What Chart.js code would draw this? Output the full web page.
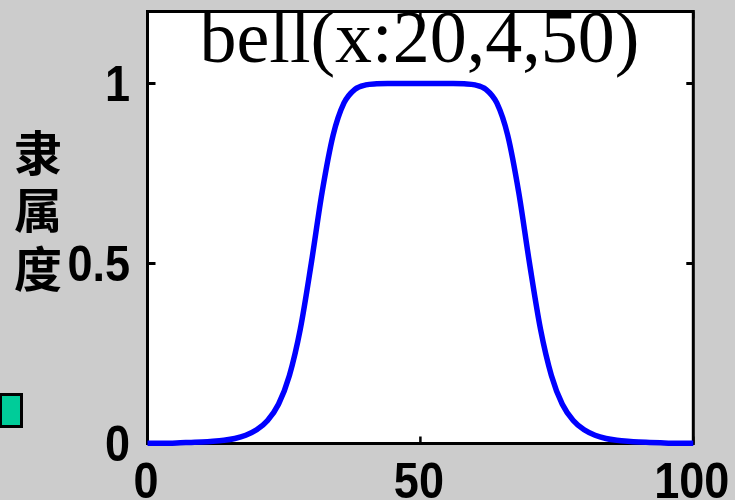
<!DOCTYPE html>
<html lang="zh">
<head>
<meta charset="UTF-8">
<title>bell(x:20,4,50)</title>
<script src="https://cdn.jsdelivr.net/npm/chart.js"></script>
<style>
  html, body { margin: 0; padding: 0; background: #cccccc; }
  #wrap { position: relative; width: 735px; height: 500px; overflow: hidden; }
  #bellChart { position: absolute; left: 0; top: 0; }
  /* small legend swatch at the left edge */
  #swatch { position: absolute; left: -1px; top: 393px; width: 18px; height: 29px;
            background: #00cc99; border: 3px solid #000; }
</style>
</head>
<body>
<div id="wrap">
  <canvas id="bellChart" width="735" height="500"></canvas>
  <div id="swatch"></div>
</div>

<script>
// membership curve, sampled every 2 units
const xValues = [0, 2, 4, 6, 8, 10, 12, 14, 16, 18, 20, 22, 24, 26, 28, 30, 32, 34, 36, 38, 40,
                 42, 44, 46, 48, 50, 52, 54, 56, 58, 60, 62, 64, 66, 68, 70, 72, 74, 76, 78, 80,
                 82, 84, 86, 88, 90, 92, 94, 96, 98, 100];
const membership = [0.001, 0.001, 0.001, 0.002, 0.003, 0.004, 0.006, 0.009, 0.014, 0.023, 0.038,
                    0.064, 0.109, 0.189, 0.318, 0.5, 0.699, 0.856, 0.946, 0.984, 0.996,
                    0.999, 1, 1, 1, 1, 1, 1, 1, 0.999,
                    0.996, 0.984, 0.946, 0.856, 0.699, 0.5, 0.318, 0.189, 0.109, 0.064, 0.038,
                    0.023, 0.014, 0.009, 0.006, 0.004, 0.003, 0.002, 0.001, 0.001, 0.001];

const xTicks = [0, 50, 100];
const xTickLabels = ['0', '50', '100'];
const yTicks = [0, 0.5, 1];
const yTickLabels = ['0', '0.5', '1'];
const titleText = 'bell(x:20,4,50)';
const yAxisLabel = ['隶', '属', '度'];

// frame, inward ticks, labels and title
const axesDecor = {
  id: 'axesDecor',
  beforeDraw(chart) {
    const { ctx, chartArea: a } = chart;
    ctx.save();
    ctx.fillStyle = '#ffffff';
    ctx.fillRect(a.left, a.top, a.right - a.left, a.bottom - a.top);
    ctx.restore();
  },
  beforeDatasetsDraw(chart) {
    const { ctx, chartArea: a, scales } = chart;
    ctx.save();
    ctx.strokeStyle = '#000';
    ctx.lineWidth = 3;
    ctx.strokeRect(a.left, a.top, a.right - a.left, a.bottom - a.top);

    ctx.lineWidth = 3;
    ctx.beginPath();
    yTicks.forEach(v => {
      const py = scales.y.getPixelForValue(v);
      ctx.moveTo(a.left, py); ctx.lineTo(a.left + 8, py);
      ctx.moveTo(a.right, py); ctx.lineTo(a.right - 7, py);
    });
    ctx.stroke();
    ctx.lineWidth = 2.5;
    ctx.beginPath();
    xTicks.forEach(v => {
      const px = scales.x.getPixelForValue(v);
      ctx.moveTo(px, a.bottom); ctx.lineTo(px, a.bottom - 7);
      ctx.moveTo(px, a.top); ctx.lineTo(px, a.top + 7);
    });
    ctx.stroke();
    ctx.restore();
  },
  afterDatasetsDraw(chart) {
    const { ctx, chartArea: a, scales } = chart;
    ctx.save();
    ctx.fillStyle = '#000';

    // tick labels, slightly condensed bold sans
    ctx.font = 'bold 50px "Liberation Sans", Arial, sans-serif';
    ctx.textBaseline = 'alphabetic';
    yTicks.forEach((v, i) => {
      const py = scales.y.getPixelForValue(v);
      ctx.save();
      ctx.translate(130, py + 17);
      ctx.scale(0.9, 1);
      ctx.textAlign = 'right';
      ctx.fillText(yTickLabels[i], 0, 0);
      ctx.restore();
    });
    xTicks.forEach((v, i) => {
      const px = scales.x.getPixelForValue(v);
      ctx.save();
      ctx.translate(px - 1.5, 498);
      ctx.scale(0.9, 1);
      ctx.textAlign = 'center';
      ctx.fillText(xTickLabels[i], 0, 0);
      ctx.restore();
    });

    // title inside the plot box
    ctx.font = '74px "Liberation Serif", "Times New Roman", serif';
    ctx.textAlign = 'center';
    ctx.fillText(titleText, (a.left + a.right) / 2 - 1, 62);

    // vertical axis label, one character per line
    ctx.font = 'bold 48px "Noto Sans CJK SC", sans-serif';
    ctx.textBaseline = 'middle';
    const rows = [152.5, 210, 268.5];
    yAxisLabel.forEach((ch, i) => ctx.fillText(ch, 38, rows[i]));
    ctx.restore();
  }
};

new Chart(document.getElementById('bellChart'), {
  type: 'line',
  data: {
    datasets: [{
      data: xValues.map((x, i) => ({ x: x, y: membership[i] })),
      borderColor: '#0000ff',
      borderWidth: 5.5,
      pointRadius: 0,
      fill: false,
      cubicInterpolationMode: 'monotone',
      clip: false
    }]
  },
  options: {
    responsive: false,
    animation: false,
    layout: { padding: { left: 147.5, top: 11.5, right: 41.7, bottom: 56.5 } },
    scales: {
      x: { type: 'linear', display: false, min: 0, max: 100 },
      y: { type: 'linear', display: false, min: 0, max: 1.2 }
    },
    plugins: {
      legend: { display: false },
      tooltip: { enabled: false }
    }
  },
  plugins: [axesDecor]
});
</script>
</body>
</html>
